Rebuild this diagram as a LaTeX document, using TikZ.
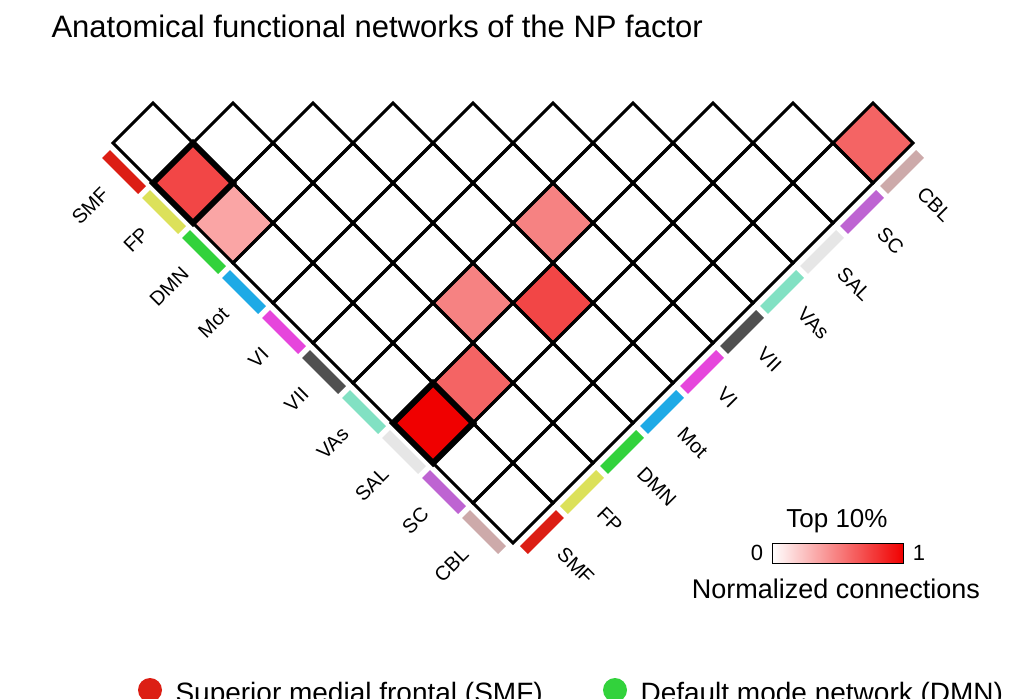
\documentclass[tikz,border=0pt]{standalone}
\usepackage{fontspec}
\setmainfont{Liberation Sans}
\usepackage{tikz}
\usetikzlibrary{calc}

% cell colours
\definecolor{cFull}{RGB}{240,0,0}
\definecolor{cHigh}{RGB}{242,70,70}
\definecolor{cMid}{RGB}{244,100,100}
\definecolor{cLow}{RGB}{246,130,130}
\definecolor{cPale}{RGB}{250,165,165}
% network colours
\definecolor{nSMF}{RGB}{220,30,20}
\definecolor{nFP}{RGB}{220,225,90}
\definecolor{nDMN}{RGB}{50,210,60}
\definecolor{nMot}{RGB}{30,170,230}
\definecolor{nVI}{RGB}{230,70,220}
\definecolor{nVII}{RGB}{80,80,80}
\definecolor{nVAs}{RGB}{130,225,195}
\definecolor{nSAL}{RGB}{230,230,230}
\definecolor{nSC}{RGB}{190,100,210}
\definecolor{nCBL}{RGB}{205,170,170}

% diamond of cell (left index, right index)
\newcommand{\celldia}[2]{%
  ({513+40*(#1-9)+40*(#2)-40},{503+40*(#1-9)-40*(#2)}) --
  ({513+40*(#1-9)+40*(#2)},{503+40*(#1-9)-40*(#2)-40}) --
  ({513+40*(#1-9)+40*(#2)+40},{503+40*(#1-9)-40*(#2)}) --
  ({513+40*(#1-9)+40*(#2)},{503+40*(#1-9)-40*(#2)+40}) -- cycle}

\begin{document}
\begin{tikzpicture}[x=1pt, y=-1pt,
  grid/.style = {line width=3pt, line join=miter},
  strong/.style = {line width=6pt, line join=miter},
  lbl/.style = {font=\fontsize{20}{22}\selectfont, inner sep=1pt},
  bar/.style = {line width=11pt}]
  \useasboundingbox (0,0) rectangle (1010,699);
  \clip (0,0) rectangle (1010,699);

  %title
  \node[anchor=west, font=\fontsize{31}{36}\selectfont] (title) at (48,26)
    {Anatomical functional networks of the NP factor};

  %filled cells
  \fill[cHigh] \celldia{1}{0};
  \fill[cPale] \celldia{2}{0};
  \fill[cMid] \celldia{9}{9};
  \fill[cLow] \celldia{6}{4};
  \fill[cLow] \celldia{6}{2};
  \fill[cHigh] \celldia{7}{3};
  \fill[cMid] \celldia{7}{1};
  \fill[cFull] \celldia{7}{0};

  %grid
  \foreach \a in {0,...,9}
    \foreach \r in {0,...,\a}
      \draw[grid] \celldia{\a}{\r};

  %strong borders
  \draw[strong] \celldia{1}{0};
  \draw[strong] \celldia{7}{0};

  %network bars and labels
  \foreach \nm [count=\k from 0] in {SMF,FP,DMN,Mot,VI,VII,VAs,SAL,SC,CBL} {
    % left edge
    \coordinate (L\k) at ({133+40*\k},{163+40*\k});
    \draw[bar, n\nm] ($(L\k)+(-27,-9)$) -- ($(L\k)+(9,27)$);
    \node[lbl, anchor=east, rotate=45] (ll\k) at ($(L\k)+(-27,27)$) {\nm};
    % right edge
    \coordinate (R\k) at ({533+40*\k},{523-40*\k});
    \draw[bar, n\nm] ($(R\k)+(-9,27)$) -- ($(R\k)+(27,-9)$);
    \node[lbl, anchor=west, rotate=-45] (rl\k) at ($(R\k)+(27,27)$) {\nm};
  }

  %colour scale
  \shade[left color=white, right color=cFull] (772,543) rectangle (903,563);
  \draw[line width=1pt] (772,543) rectangle (903,563);
  \node[font=\fontsize{22}{24}\selectfont] (zero) at (757,553) {0};
  \node[font=\fontsize{22}{24}\selectfont] (one) at (919,553) {1};
  \node[font=\fontsize{26}{28}\selectfont] (top) at (837,521) {Top 10\%};
  \node[font=\fontsize{27}{30}\selectfont] (norm) at (836,589) {Normalized connections};

  %legend
  \fill[nSMF] (150,690) circle (12);
  \node[anchor=west, font=\fontsize{28}{32}\selectfont] (lgA) at (172,695) {Superior medial frontal (SMF)};
  \fill[nDMN] (615,690) circle (12);
  \node[anchor=west, font=\fontsize{28}{32}\selectfont] (lgB) at (637,695) {Default mode network (DMN)};
\end{tikzpicture}
\end{document}
